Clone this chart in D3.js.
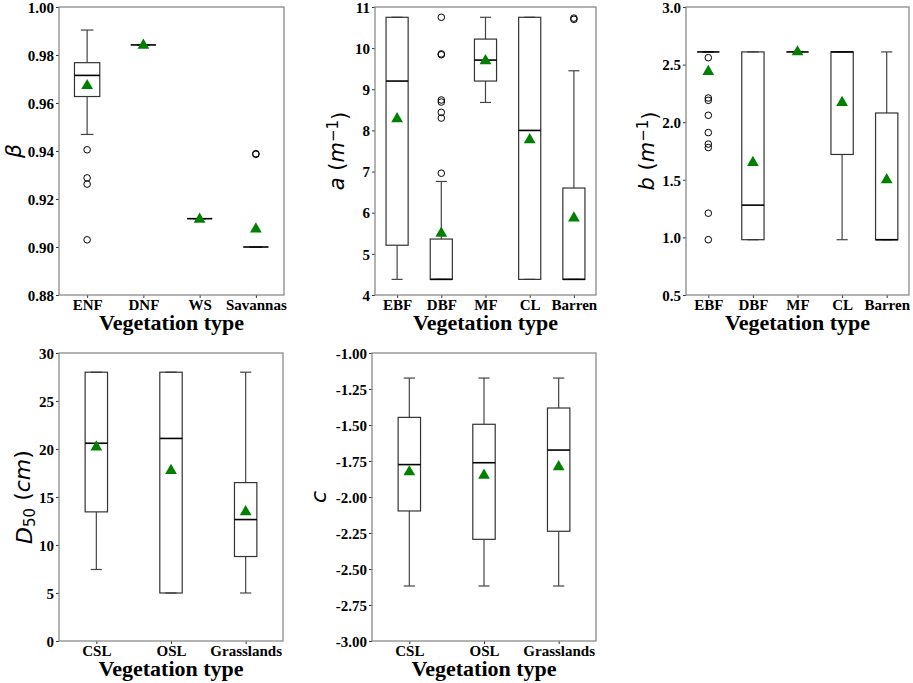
<!DOCTYPE html>
<html>
<head>
<meta charset="utf-8">
<script src="https://cdn.jsdelivr.net/npm/d3@7"></script>
<style>
  body { margin: 0; background: #fff; }
  svg { display: block; }
  .tick text { font-family: "Liberation Serif", "Times New Roman", serif; font-weight: bold; font-size: 15px; fill: #000; }
</style>
</head>
<body>
<svg id="chart" width="913" height="683"></svg>
<script>
// ---------- DATA ----------
// Panel 1: beta
const betaCats = ["ENF", "DNF", "WS", "Savannas"];
const betaWhiskLo = [0.9469, 0.9842, 0.9118, 0.900];
const betaQ1      = [0.9627, 0.9842, 0.9118, 0.900];
const betaMed     = [0.9715, 0.9842, 0.9118, 0.900];
const betaQ3      = [0.9768, 0.9842, 0.9118, 0.900];
const betaWhiskHi = [0.9904, 0.9842, 0.9118, 0.900];
const betaMean    = [0.9672, 0.9840, 0.9115, 0.9075];
const betaOut     = [[0.9405, 0.9288, 0.9262, 0.9030], [], [], [0.9389, 0.9386]];
const betaTicks   = [0.88, 0.90, 0.92, 0.94, 0.96, 0.98, 1.00];

// Panel 2: a
const aCats = ["EBF", "DBF", "MF", "CL", "Barren"];
const aWhiskLo = [4.38, 4.38, 8.68, 4.38, 4.38];
const aQ1      = [5.21, 4.38, 9.20, 4.38, 4.38];
const aMed     = [9.20, 4.38, 9.71, 8.00, 4.38];
const aQ3      = [10.75, 5.36, 10.22, 10.75, 6.60];
const aWhiskHi = [10.75, 6.76, 10.75, 10.75, 9.45];
const aMean    = [8.28, 5.50, 9.69, 7.77, 5.87];
const aOut     = [[], [10.75, 9.86, 9.84, 8.74, 8.69, 8.44, 8.30, 6.96], [], [], [10.73, 10.70]];
const aTicks   = [4, 5, 6, 7, 8, 9, 10, 11];

// Panel 3: b
const bCats = ["EBF", "DBF", "MF", "CL", "Barren"];
const bWhiskLo = [2.61, 0.98, 2.61, 0.98, 0.98];
const bQ1      = [2.61, 0.98, 2.61, 1.72, 0.98];
const bMed     = [2.61, 1.28, 2.61, 2.61, 0.98];
const bQ3      = [2.61, 2.61, 2.61, 2.61, 2.08];
const bWhiskHi = [2.61, 2.61, 2.61, 2.61, 2.61];
const bMean    = [2.44, 1.65, 2.61, 2.17, 1.50];
const bOut     = [[2.56, 2.21, 2.19, 2.06, 1.91, 1.81, 1.78, 1.21, 0.98], [], [], [], []];
const bTicks   = [0.5, 1.0, 1.5, 2.0, 2.5, 3.0];

// Panel 4: D50
const dCats = ["CSL", "OSL", "Grasslands"];
const dWhiskLo = [7.45, 5.0, 5.0];
const dQ1      = [13.45, 5.0, 8.8];
const dMed     = [20.6, 21.1, 12.65];
const dQ3      = [28.0, 28.0, 16.5];
const dWhiskHi = [28.0, 28.0, 28.0];
const dMean    = [20.2, 17.75, 13.45];
const dOut     = [[], [], []];
const dTicks   = [0, 5, 10, 15, 20, 25, 30];

// Panel 5: c
const cCats = ["CSL", "OSL", "Grasslands"];
const cWhiskLo = [-2.618, -2.618, -2.618];
const cQ1      = [-2.097, -2.294, -2.238];
const cMed     = [-1.775, -1.762, -1.674];
const cQ3      = [-1.447, -1.495, -1.382];
const cWhiskHi = [-1.174, -1.174, -1.174];
const cMean    = [-1.826, -1.850, -1.790];
const cOut     = [[], [], []];
const cTicks   = [-3.00, -2.75, -2.50, -2.25, -2.00, -1.75, -1.50, -1.25, -1.00];

const xTitle = "Vegetation type";

// ---------- LAYOUT ----------
const panels = [
  { cats: betaCats, lo: betaWhiskLo, q1: betaQ1, med: betaMed, q3: betaQ3, hi: betaWhiskHi, mean: betaMean, out: betaOut,
    ticks: betaTicks, fmt: d3.format(".2f"), box: 0.45,
    left: 59, right: 284, top: 7, bottom: 295, ylab: "beta", ylabX: 13 },
  { cats: aCats, lo: aWhiskLo, q1: aQ1, med: aMed, q3: aQ3, hi: aWhiskHi, mean: aMean, out: aOut,
    ticks: aTicks, fmt: d3.format("d"), box: 0.5,
    left: 375, right: 596, top: 7, bottom: 295, ylab: "a", ylabX: 337 },
  { cats: bCats, lo: bWhiskLo, q1: bQ1, med: bMed, q3: bQ3, hi: bWhiskHi, mean: bMean, out: bOut,
    ticks: bTicks, fmt: d3.format(".1f"), box: 0.5,
    left: 686, right: 909, top: 7, bottom: 295, ylab: "b", ylabX: 647 },
  { cats: dCats, lo: dWhiskLo, q1: dQ1, med: dMed, q3: dQ3, hi: dWhiskHi, mean: dMean, out: dOut,
    ticks: dTicks, fmt: d3.format("d"), box: 0.3,
    left: 59, right: 283, top: 353, bottom: 641, ylab: "D50", ylabX: 24 },
  { cats: cCats, lo: cWhiskLo, q1: cQ1, med: cMed, q3: cQ3, hi: cWhiskHi, mean: cMean, out: cOut,
    ticks: cTicks, fmt: v => d3.format(".2f")(v).replace("−", "-"), box: 0.3,
    left: 372, right: 596, top: 353, bottom: 641, ylab: "c", ylabX: 318 }
];

const svg = d3.select("#chart");
const frameColor = "#8a8a8a";
const boxColor = "#333";
const whiskColor = "#444";

panels.forEach(p => {
  const n = p.cats.length;
  const x = d3.scaleLinear().domain([-0.5, n - 0.5]).range([p.left, p.right]);
  const y = d3.scaleLinear().domain([p.ticks[0], p.ticks[p.ticks.length - 1]]).range([p.bottom, p.top]);
  const g = svg.append("g");

  // axes
  const yAxis = d3.axisLeft(y).tickValues(p.ticks).tickFormat(p.fmt).tickSize(3).tickPadding(2);
  const gy = g.append("g").attr("transform", `translate(${p.left},0)`).call(yAxis);
  const xAxis = d3.axisBottom(x).tickValues(d3.range(n)).tickFormat(i => p.cats[i]).tickSize(3).tickPadding(1);
  const gx = g.append("g").attr("transform", `translate(0,${p.bottom})`).call(xAxis);
  [gx, gy].forEach(a => {
    a.select(".domain").remove();
    a.selectAll(".tick line").attr("stroke", "#333").attr("stroke-width", 1);
  });
  gy.selectAll(".tick text").attr("dy", "0.35em");

  // frame
  g.append("rect")
    .attr("x", p.left).attr("y", p.top)
    .attr("width", p.right - p.left).attr("height", p.bottom - p.top)
    .attr("fill", "none").attr("stroke", frameColor).attr("stroke-width", 1.3);

  const bw = x(p.box) - x(0);
  const cw = bw / 2;

  d3.range(n).forEach(i => {
    const cx = x(i);
    // whiskers
    g.append("line").attr("x1", cx).attr("x2", cx).attr("y1", y(p.q3[i])).attr("y2", y(p.hi[i]))
      .attr("stroke", whiskColor).attr("stroke-width", 1.2);
    g.append("line").attr("x1", cx).attr("x2", cx).attr("y1", y(p.q1[i])).attr("y2", y(p.lo[i]))
      .attr("stroke", whiskColor).attr("stroke-width", 1.2);
    // caps
    g.append("line").attr("x1", cx - cw / 2).attr("x2", cx + cw / 2).attr("y1", y(p.hi[i])).attr("y2", y(p.hi[i]))
      .attr("stroke", whiskColor).attr("stroke-width", 1.2);
    g.append("line").attr("x1", cx - cw / 2).attr("x2", cx + cw / 2).attr("y1", y(p.lo[i])).attr("y2", y(p.lo[i]))
      .attr("stroke", whiskColor).attr("stroke-width", 1.2);
    // box
    g.append("rect").attr("x", cx - bw / 2).attr("width", bw)
      .attr("y", y(p.q3[i])).attr("height", Math.max(0, y(p.q1[i]) - y(p.q3[i])))
      .attr("fill", "none").attr("stroke", boxColor).attr("stroke-width", 1.2);
    // median
    g.append("line").attr("x1", cx - bw / 2).attr("x2", cx + bw / 2).attr("y1", y(p.med[i])).attr("y2", y(p.med[i]))
      .attr("stroke", "#000").attr("stroke-width", 1.6);
    // outliers
    p.out[i].forEach(v => {
      g.append("circle").attr("cx", cx).attr("cy", y(v)).attr("r", 3.3)
        .attr("fill", "none").attr("stroke", "#000").attr("stroke-width", 1);
    });
    // mean
    g.append("path").attr("d", d3.symbol().type(d3.symbolTriangle).size(60)())
      .attr("transform", `translate(${cx},${y(p.mean[i])})`)
      .attr("fill", "#008000");
  });

  // x title
  g.append("text").attr("x", (p.left + p.right) / 2).attr("y", p.bottom + 35)
    .attr("text-anchor", "middle")
    .style("font-family", '"Liberation Serif", "Times New Roman", serif')
    .style("font-weight", "bold").style("font-size", "22px")
    .text(xTitle);

  // y title
  const cy = (p.top + p.bottom) / 2;
  const t = g.append("text")
    .attr("transform", `translate(${p.ylabX},${cy}) rotate(-90)`)
    .attr("text-anchor", "middle").attr("dy", "0.35em")
    .style("font-family", '"DejaVu Sans", sans-serif').style("font-size", "22px");
  if (p.ylab === "beta") {
    t.append("tspan").style("font-style", "italic").text("β");
  } else if (p.ylab === "a" || p.ylab === "b") {
    t.style("font-size", "21px");
    t.append("tspan").style("font-style", "italic").text(p.ylab);
    t.append("tspan").text(" (");
    t.append("tspan").style("font-style", "italic").text("m");
    t.append("tspan").attr("dy", "-0.45em").style("font-size", "15px").text("−1");
    t.append("tspan").attr("dy", "0.45em").text(")");
  } else if (p.ylab === "D50") {
    t.append("tspan").style("font-style", "italic").text("D");
    t.append("tspan").attr("dy", "0.25em").style("font-size", "15px").text("50");
    t.append("tspan").attr("dy", "-0.25em").text(" (");
    t.append("tspan").style("font-style", "italic").text("cm");
    t.append("tspan").text(")");
  } else {
    t.append("tspan").style("font-style", "italic").text("c");
  }
});
</script>
</body>
</html>
